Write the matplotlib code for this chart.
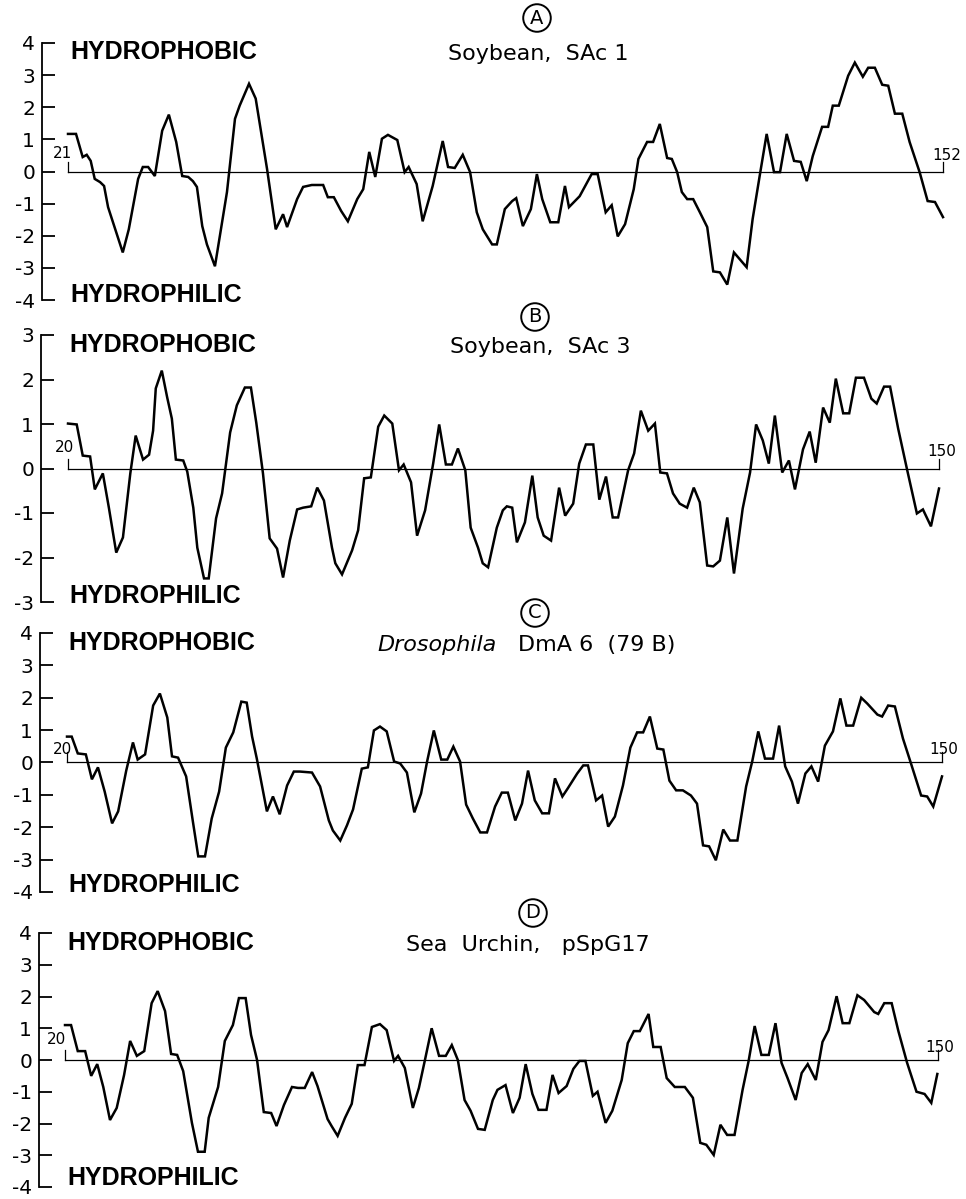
import matplotlib
matplotlib.use("Agg")
import matplotlib.pyplot as plt

plt.rcParams['font.family'] = ['DejaVu Sans']
plt.rcParams['axes.unicode_minus'] = False

# hydropathy profiles: (residue, value)
profile_a = [(21.0, 1.17), (22.2, 1.17), (23.2, 0.45), (23.8, 0.52), (24.4, 0.33), (25.0, -0.23), (25.8, -0.33),
             (26.4, -0.45), (27.0, -1.11), (29.2, -2.52), (30.1, -1.8), (31.0, -0.8), (31.5, -0.23), (32.2, 0.14),
             (33.0, 0.14), (34.0, -0.14), (35.1, 1.27), (36.1, 1.77), (37.2, 0.92), (38.1, -0.14), (39.0, -0.17),
             (39.7, -0.3), (40.3, -0.48), (41.1, -1.7), (41.8, -2.27), (43.0, -2.95), (44.1, -1.55), (44.8, -0.64),
             (46.0, 1.64), (46.7, 2.05), (48.1, 2.73), (49.1, 2.27), (50.8, 0.08), (52.1, -1.8), (53.2, -1.33),
             (53.8, -1.73), (55.3, -0.86), (56.2, -0.48), (57.5, -0.42), (59.2, -0.42), (59.9, -0.8), (60.8, -0.8),
             (61.9, -1.23), (62.9, -1.55), (64.3, -0.86), (65.2, -0.55), (66.1, 0.61), (67.0, -0.17), (68.0, 1.02),
             (68.9, 1.14), (70.3, 0.98), (71.4, -0.02), (72.0, 0.14), (73.2, -0.39), (74.1, -1.55), (75.6, -0.45),
             (77.1, 0.95), (77.9, 0.14), (78.9, 0.11), (80.1, 0.52), (81.2, -0.02), (82.2, -1.27), (83.1, -1.8),
             (84.5, -2.27), (85.2, -2.27), (86.4, -1.17), (87.5, -0.92), (88.1, -0.83), (89.1, -1.7), (90.3, -1.17),
             (91.2, -0.08), (92.0, -0.86), (93.2, -1.58), (94.4, -1.58), (95.4, -0.45), (96.0, -1.11), (97.6, -0.77),
             (99.4, -0.08), (100.3, -0.08), (101.5, -1.27), (102.4, -1.05), (103.3, -2.02), (104.4, -1.64),
             (105.7, -0.55), (106.4, 0.39), (107.7, 0.92), (108.6, 0.92), (109.6, 1.48), (110.7, 0.42), (111.4, 0.39),
             (112.2, -0.02), (112.9, -0.64), (113.7, -0.86), (114.6, -0.86), (115.6, -1.27), (116.7, -1.73),
             (117.6, -3.11), (118.6, -3.14), (119.7, -3.52), (120.7, -2.52), (122.6, -2.98), (123.5, -1.48),
             (124.6, -0.08), (125.6, 1.17), (126.7, -0.02), (127.6, -0.02), (128.6, 1.17), (129.7, 0.33), (130.7, 0.3),
             (131.6, -0.3), (132.5, 0.48), (133.9, 1.39), (134.8, 1.39), (135.5, 2.05), (136.4, 2.05), (137.8, 2.98),
             (138.8, 3.39), (140.0, 2.95), (140.8, 3.23), (141.8, 3.23), (142.9, 2.7), (143.8, 2.67), (144.8, 1.8),
             (145.9, 1.8), (147.0, 0.92), (148.5, -0.02), (149.7, -0.92), (150.8, -0.95), (152.0, -1.42)]

profile_b = [(20.0, 1.01), (21.3, 0.99), (22.2, 0.29), (23.3, 0.27), (24.0, -0.47), (25.2, -0.11), (26.1, -0.88),
             (27.2, -1.89), (28.2, -1.55), (29.3, -0.11), (30.1, 0.74), (31.2, 0.2), (32.1, 0.31), (32.7, 0.85),
             (33.1, 1.8), (34.0, 2.2), (34.8, 1.6), (35.5, 1.12), (36.1, 0.2), (37.2, 0.18), (37.8, -0.07),
             (38.7, -0.88), (39.3, -1.78), (40.3, -2.47), (41.0, -2.47), (42.1, -1.12), (43.0, -0.56), (44.2, 0.81),
             (45.2, 1.42), (46.4, 1.82), (47.3, 1.82), (48.1, 1.03), (49.1, -0.11), (50.1, -1.57), (51.2, -1.8),
             (52.1, -2.45), (53.1, -1.62), (54.2, -0.92), (55.1, -0.88), (56.3, -0.85), (57.2, -0.43), (58.2, -0.72),
             (59.4, -1.78), (59.9, -2.13), (60.9, -2.38), (62.4, -1.84), (63.3, -1.39), (64.2, -0.22), (65.2, -0.2),
             (66.3, 0.94), (67.2, 1.19), (68.4, 1.01), (69.4, -0.04), (70.1, 0.09), (71.2, -0.31), (72.1, -1.51),
             (73.3, -0.94), (74.5, 0.11), (75.4, 0.99), (76.4, 0.09), (77.3, 0.09), (78.2, 0.45), (79.3, -0.04),
             (80.1, -1.33), (81.2, -1.78), (81.9, -2.13), (82.7, -2.22), (84.0, -1.33), (84.9, -0.94), (85.5, -0.85),
             (86.3, -0.88), (87.0, -1.66), (88.2, -1.21), (89.3, -0.16), (90.1, -1.1), (91.0, -1.51), (92.1, -1.62),
             (93.3, -0.43), (94.2, -1.06), (95.4, -0.79), (96.3, 0.11), (97.3, 0.54), (98.4, 0.54), (99.3, -0.7),
             (100.3, -0.18), (101.3, -1.1), (102.1, -1.1), (103.6, -0.04), (104.5, 0.34), (105.5, 1.3), (106.6, 0.85),
             (107.6, 1.01), (108.4, -0.09), (109.4, -0.11), (110.3, -0.56), (111.3, -0.79), (112.4, -0.88),
             (113.4, -0.43), (114.3, -0.76), (115.4, -2.18), (116.3, -2.2), (117.3, -2.07), (118.4, -1.1),
             (119.4, -2.36), (120.7, -0.9), (121.8, -0.09), (122.7, 0.99), (123.7, 0.63), (124.6, 0.11), (125.5, 1.19),
             (126.6, -0.09), (127.6, 0.18), (128.5, -0.47), (129.7, 0.43), (130.7, 0.83), (131.6, 0.13), (132.7, 1.37),
             (133.7, 1.03), (134.6, 2.02), (135.7, 1.24), (136.6, 1.24), (137.6, 2.04), (138.8, 2.04), (139.9, 1.57),
             (140.7, 1.46), (141.8, 1.84), (142.7, 1.84), (143.9, 0.9), (145.2, 0.0), (146.7, -1.01), (147.6, -0.92),
             (148.8, -1.3), (150.0, -0.45)]

profile_c = [(20.0, 0.8), (20.7, 0.8), (21.6, 0.28), (22.8, 0.25), (23.7, -0.52), (24.6, -0.15), (25.6, -0.9),
             (26.7, -1.88), (27.6, -1.51), (28.8, -0.25), (29.8, 0.62), (30.5, 0.09), (31.6, 0.25), (32.8, 1.76),
             (33.8, 2.13), (34.9, 1.39), (35.6, 0.19), (36.5, 0.15), (37.7, -0.43), (38.7, -1.82), (39.5, -2.9),
             (40.5, -2.9), (41.5, -1.73), (42.6, -0.9), (43.6, 0.46), (44.7, 0.93), (45.9, 1.88), (46.7, 1.85),
             (47.5, 0.8), (48.2, 0.12), (49.7, -1.51), (50.6, -1.05), (51.6, -1.6), (52.7, -0.71), (53.7, -0.28),
             (54.6, -0.28), (56.4, -0.31), (57.6, -0.74), (58.9, -1.79), (59.5, -2.1), (60.6, -2.41), (61.6, -1.94),
             (62.5, -1.45), (63.8, -0.19), (64.7, -0.15), (65.6, 0.99), (66.5, 1.11), (67.5, 0.96), (68.6, 0.03),
             (69.5, -0.03), (70.5, -0.31), (71.6, -1.54), (72.6, -0.96), (73.5, 0.03), (74.5, 0.99), (75.6, 0.09),
             (76.5, 0.09), (77.4, 0.49), (78.4, 0.03), (79.3, -1.3), (80.3, -1.73), (81.4, -2.16), (82.4, -2.16),
             (83.6, -1.36), (84.6, -0.93), (85.5, -0.93), (86.6, -1.79), (87.6, -1.27), (88.5, -0.25), (89.5, -1.17),
             (90.6, -1.57), (91.6, -1.57), (92.5, -0.49), (93.6, -1.05), (94.4, -0.8), (95.8, -0.34), (96.7, -0.09),
             (97.4, -0.09), (98.6, -1.17), (99.5, -1.02), (100.4, -1.98), (101.4, -1.67), (102.6, -0.71), (103.7, 0.46),
             (104.7, 0.93), (105.6, 0.93), (106.6, 1.42), (107.7, 0.43), (108.6, 0.4), (109.5, -0.56), (110.5, -0.86),
             (111.5, -0.86), (112.7, -1.02), (113.6, -1.27), (114.5, -2.56), (115.4, -2.59), (116.4, -3.02),
             (117.5, -2.07), (118.5, -2.41), (119.6, -2.41), (120.9, -0.74), (121.8, 0.03), (122.7, 0.96), (123.7, 0.12),
             (124.9, 0.12), (125.8, 1.14), (126.7, -0.12), (127.7, -0.59), (128.6, -1.27), (129.7, -0.34),
             (130.6, -0.12), (131.6, -0.59), (132.6, 0.52), (133.8, 0.96), (134.9, 1.98), (135.8, 1.14), (136.8, 1.14),
             (138.0, 2.0), (138.9, 1.82), (140.4, 1.48), (141.1, 1.42), (142.0, 1.76), (143.0, 1.73), (144.2, 0.74),
             (145.3, 0.03), (146.9, -1.02), (147.8, -1.05), (148.7, -1.36), (150.0, -0.43)]

profile_d = [(20.0, 1.1), (20.9, 1.1), (21.9, 0.28), (23.0, 0.28), (23.9, -0.5), (24.8, -0.13), (25.7, -0.85),
             (26.7, -1.89), (27.7, -1.51), (28.8, -0.47), (29.7, 0.6), (30.7, 0.13), (31.8, 0.28), (32.9, 1.79),
             (33.8, 2.17), (34.9, 1.54), (35.8, 0.19), (36.7, 0.16), (37.6, -0.35), (38.9, -1.98), (39.8, -2.89),
             (40.8, -2.89), (41.4, -1.82), (42.8, -0.85), (43.8, 0.6), (45.0, 1.1), (45.9, 1.95), (46.9, 1.95),
             (47.7, 0.79), (48.6, 0.0), (49.6, -1.64), (50.7, -1.67), (51.5, -2.08), (52.6, -1.42), (53.8, -0.85),
             (54.7, -0.88), (55.7, -0.88), (56.8, -0.38), (57.6, -0.82), (59.1, -1.86), (59.7, -2.08), (60.6, -2.39),
             (61.7, -1.82), (62.7, -1.38), (63.6, -0.16), (64.6, -0.16), (65.7, 1.04), (66.9, 1.13), (67.9, 0.94),
             (69.0, -0.03), (69.6, 0.13), (70.6, -0.25), (71.8, -1.51), (72.7, -0.88), (73.6, 0.0), (74.6, 1.0),
             (75.7, 0.13), (76.7, 0.13), (77.6, 0.47), (78.5, 0.0), (79.5, -1.26), (80.4, -1.6), (81.5, -2.17),
             (82.5, -2.2), (83.7, -1.26), (84.4, -0.94), (85.6, -0.79), (86.7, -1.67), (87.7, -1.19), (88.6, -0.13),
             (89.6, -1.07), (90.5, -1.57), (91.7, -1.57), (92.6, -0.47), (93.5, -1.04), (94.7, -0.82), (95.7, -0.28),
             (96.6, -0.03), (97.5, -0.03), (98.6, -1.13), (99.3, -1.0), (100.5, -1.98), (101.5, -1.6), (102.9, -0.63),
             (103.8, 0.53), (104.7, 0.91), (105.6, 0.91), (106.9, 1.45), (107.6, 0.41), (108.7, 0.41), (109.6, -0.57),
             (110.8, -0.85), (112.3, -0.85), (113.5, -1.19), (114.6, -2.61), (115.5, -2.67), (116.6, -2.99),
             (117.6, -2.04), (118.6, -2.36), (119.7, -2.36), (120.9, -0.94), (121.8, -0.03), (122.7, 1.07),
             (123.7, 0.16), (124.8, 0.16), (125.8, 1.16), (126.7, -0.09), (127.6, -0.57), (128.8, -1.26), (129.7, -0.41),
             (130.6, -0.13), (131.8, -0.63), (132.8, 0.57), (133.7, 0.94), (134.9, 2.01), (135.8, 1.16), (136.8, 1.16),
             (138.0, 2.04), (139.0, 1.89), (140.5, 1.51), (141.1, 1.45), (142.0, 1.79), (143.1, 1.79), (144.1, 0.91),
             (145.4, -0.09), (146.8, -1.0), (148.0, -1.07), (149.0, -1.35), (149.9, -0.44)]

letters = ['A', 'B', 'C', 'D']
titles = ['Soybean,  SAc 1', 'Soybean,  SAc 3', 'DmA 6  (79 B)', 'Sea  Urchin,   pSpG17']
first_res = [21, 20, 20, 20]
last_res = [152, 150, 150, 150]
y_ranges = [(-4, 4), (-3, 3), (-4, 4), (-4, 4)]
profiles = [profile_a, profile_b, profile_c, profile_d]

W, H = 966, 1199


def fx(px):
    return px / W


def fy(py):
    return 1 - py / H


# layout in pixels: spine x, first residue x, last residue x, top y, bottom y
layout = [
    dict(spine=42, x0=68, x1=943, top=43, bot=300, title=(538, 54), circ=(537, 18),
         phob=52, phil=295, lab0=(63, 153), lab1=(947, 155)),
    dict(spine=41, x0=68, x1=939, top=335, bot=602, title=(540, 347), circ=(535, 317),
         phob=345, phil=596, lab0=(64, 447), lab1=(942, 452)),
    dict(spine=40, x0=67, x1=942, top=633, bot=892, title=(609, 645), circ=(535, 613),
         phob=643, phil=885, lab0=(62, 750), lab1=(944, 750)),
    dict(spine=39, x0=65, x1=938, top=933, bot=1187, title=(528, 945), circ=(533, 913),
         phob=943, phil=1178, lab0=(57, 1040), lab1=(940, 1047)),
]

fig = plt.figure(figsize=(9.66, 11.99), dpi=100)
fig.patch.set_facecolor('white')

for i, lay in enumerate(layout):
    r0, r1 = first_res[i], last_res[i]
    ymin, ymax = y_ranges[i]
    right = W
    ax = fig.add_axes([fx(lay['spine']), fy(lay['bot']), (right - lay['spine']) / W,
                       (lay['bot'] - lay['top']) / H])
    scale = (lay['x1'] - lay['x0']) / (r1 - r0)
    ax.set_xlim(r0 - (lay['x0'] - lay['spine']) / scale, r0 + (right - lay['x0']) / scale)
    ax.set_ylim(ymin, ymax)
    ax.patch.set_alpha(0)
    for s in ['top', 'right', 'bottom']:
        ax.spines[s].set_visible(False)
    ax.spines['left'].set_linewidth(1.3)
    ax.set_xticks([])
    ax.set_yticks(range(ymin, ymax + 1))
    ax.tick_params(axis='y', direction='in', length=9, width=1.3, labelsize=14.5, pad=5)

    # baseline with end marks
    hmark = 10 * (ymax - ymin) / (lay['bot'] - lay['top'])
    ax.plot([r0, r1], [0, 0], color='black', lw=0.9)
    ax.plot([r0, r0], [0, hmark], color='black', lw=0.9)
    ax.plot([r1, r1], [0, hmark], color='black', lw=0.9)

    res = [p[0] for p in profiles[i]]
    val = [p[1] for p in profiles[i]]
    ax.plot(res, val, color='black', lw=1.8, solid_joinstyle='miter')

    fig.text(fx(lay['lab0'][0]), fy(lay['lab0'][1]), str(r0), ha='center', va='center', fontsize=11)
    fig.text(fx(lay['lab1'][0]), fy(lay['lab1'][1]), str(r1), ha='center', va='center', fontsize=11)

    fig.text(fx(lay['spine'] + 28), fy(lay['phob']), 'HYDROPHOBIC', ha='left', va='center',
             fontsize=18, fontweight='bold', family='Liberation Sans')
    fig.text(fx(lay['spine'] + 28), fy(lay['phil']), 'HYDROPHILIC', ha='left', va='center',
             fontsize=18, fontweight='bold', family='Liberation Sans')

    fig.text(fx(lay['circ'][0]), fy(lay['circ'][1]), letters[i], ha='center', va='center', fontsize=14,
             bbox=dict(boxstyle='circle,pad=0.22', fc='none', ec='black', lw=1.4))

    if i == 2:
        fig.text(fx(497), fy(lay['title'][1]), 'Drosophila', ha='right', va='center', fontsize=16,
                 style='italic')
        fig.text(fx(518), fy(lay['title'][1]), titles[i], ha='left', va='center', fontsize=16)
    else:
        fig.text(fx(lay['title'][0]), fy(lay['title'][1]), titles[i], ha='center', va='center', fontsize=16)

fig.savefig('out.png', dpi=100)
